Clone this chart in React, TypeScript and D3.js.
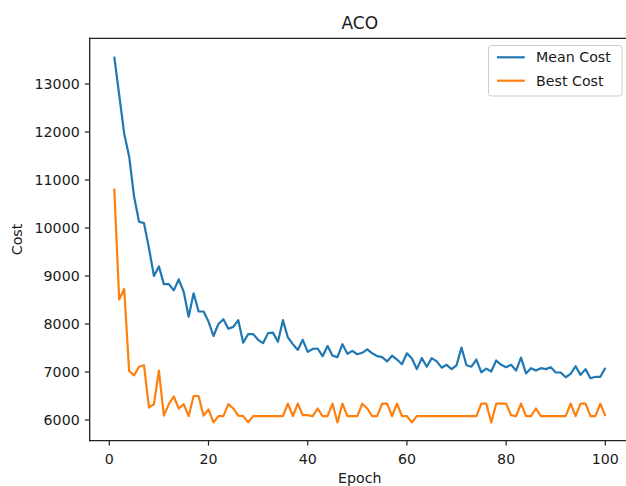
import React from "react";
import * as d3 from "d3";

// epochs 1..100
const epochs = d3.range(1, 101);

const meanCost = [
  13570, 12770, 11970, 11490, 10650, 10130, 10100, 9580, 9000, 9200,
  8830, 8830, 8700, 8930, 8670, 8150, 8640, 8260, 8260, 8050,
  7750, 8000, 8100, 7900, 7940, 8080, 7610, 7790, 7790, 7670,
  7600, 7810, 7820, 7630, 8080, 7720, 7580, 7460, 7670, 7420,
  7480, 7490, 7330, 7540, 7340, 7310, 7580, 7380, 7440, 7370,
  7400, 7470, 7390, 7330, 7310, 7220, 7340, 7260, 7160, 7390,
  7280, 7060, 7290, 7110, 7290, 7220, 7090, 7150, 7060, 7140,
  7510, 7140, 7110, 7260, 6990, 7070, 7010, 7240, 7150, 7100,
  7150, 7030, 7300, 6970, 7080, 7030, 7080, 7060, 7100, 6990,
  6990, 6890, 6960, 7120, 6940, 7060, 6870, 6900, 6900, 7090,
];

const bestCost = [
  10820, 8510, 8730, 7020, 6930, 7110, 7140, 6260, 6330, 7030,
  6090, 6330, 6490, 6240, 6330, 6080, 6500, 6500, 6090, 6220,
  5950, 6080, 6080, 6330, 6240, 6090, 6080, 5950, 6080, 6080,
  6080, 6080, 6080, 6080, 6080, 6340, 6080, 6340, 6100, 6100,
  6080, 6240, 6080, 6080, 6340, 5950, 6340, 6080, 6080, 6080,
  6340, 6240, 6080, 6080, 6340, 6340, 6080, 6340, 6080, 6080,
  5950, 6080, 6080, 6080, 6080, 6080, 6080, 6080, 6080, 6080,
  6080, 6080, 6080, 6080, 6340, 6340, 5950, 6340, 6340, 6340,
  6100, 6080, 6340, 6080, 6080, 6240, 6080, 6080, 6080, 6080,
  6080, 6080, 6340, 6080, 6340, 6340, 6080, 6080, 6340, 6080,
];

const seriesNames = ["Mean Cost", "Best Cost"];
const seriesColors = ["#1f77b4", "#ff7f0e"];
const xTicks = [0, 20, 40, 60, 80, 100];
const yTicks = [6000, 7000, 8000, 9000, 10000, 11000, 12000, 13000];

const W = 626;
const H = 486;
const plot = { left: 89.7, right: 629.9, top: 38.3, bottom: 440.7 };
const FONT = "DejaVu Sans, sans-serif";
const FS = 14.2;

// matplotlib style 5% margins
function padded(lo: number, hi: number) {
  const p = (hi - lo) * 0.05;
  return [lo - p, hi + p];
}

export default function App() {
  const allY = [...meanCost, ...bestCost];
  const x = d3
    .scaleLinear()
    .domain(padded(d3.min(epochs)!, d3.max(epochs)!))
    .range([plot.left, plot.right]);
  const y = d3
    .scaleLinear()
    .domain(padded(d3.min(allY)!, d3.max(allY)!))
    .range([plot.bottom, plot.top]);

  const line = d3
    .line<number>()
    .x((_, i) => x(epochs[i]))
    .y((d) => y(d));

  const series = [meanCost, bestCost];
  const cx = (plot.left + plot.right) / 2;
  const cy = (plot.top + plot.bottom) / 2;

  // legend
  const lg = { x: 488.5, y: 45.5, w: 133.5, h: 50.5 };
  const rowY = [57.3, 80.7];

  return (
    <svg
      width={W}
      height={H}
      style={{ position: "absolute", left: 0, top: 0, background: "#fff" }}
      fontFamily={FONT}
    >
      <defs>
        <clipPath id="plotclip">
          <rect x={plot.left} y={plot.top} width={plot.right - plot.left} height={plot.bottom - plot.top} />
        </clipPath>
      </defs>

      <g clipPath="url(#plotclip)">
        {series.map((s, i) => (
          <path
            key={i}
            d={line(s) || ""}
            fill="none"
            stroke={seriesColors[i]}
            strokeWidth={2.2}
            strokeLinejoin="round"
          />
        ))}
      </g>

      {/* spines */}
      <g stroke="#222" strokeWidth={1.3} fill="none" strokeLinecap="square">
        <line x1={plot.left} y1={plot.top} x2={plot.left} y2={plot.bottom} />
        <line x1={plot.left} y1={plot.bottom} x2={plot.right} y2={plot.bottom} />
        <line x1={plot.left} y1={plot.top} x2={plot.right} y2={plot.top} />
        <line x1={plot.right} y1={plot.top} x2={plot.right} y2={plot.bottom} />
      </g>

      {/* x axis */}
      {xTicks.map((t) => (
        <g key={t} transform={`translate(${x(t)},${plot.bottom})`}>
          <line y2={4.9} stroke="#222" strokeWidth={1.2} />
          <text y={23} textAnchor="middle" fontSize={FS} fill="#1a1a1a">
            {t}
          </text>
        </g>
      ))}
      <text x={cx} y={482.5} textAnchor="middle" fontSize={FS} fill="#1a1a1a">
        Epoch
      </text>

      {/* y axis */}
      {yTicks.map((t) => (
        <g key={t} transform={`translate(${plot.left},${y(t)})`}>
          <line x2={-4.9} stroke="#222" strokeWidth={1.2} />
          <text x={-10} dy="0.35em" textAnchor="end" fontSize={FS} fill="#1a1a1a">
            {t}
          </text>
        </g>
      ))}
      <text
        transform={`translate(21.5,${cy}) rotate(-90)`}
        textAnchor="middle"
        fontSize={FS}
        fill="#1a1a1a"
      >
        Cost
      </text>

      {/* title */}
      <text x={cx} y={29} textAnchor="middle" fontSize={17} fill="#1a1a1a">
        ACO
      </text>

      {/* legend */}
      <rect
        x={lg.x}
        y={lg.y}
        width={lg.w}
        height={lg.h}
        rx={2.8}
        fill="#fff"
        fillOpacity={0.8}
        stroke="#cccccc"
        strokeWidth={1}
      />
      {seriesNames.map((n, i) => (
        <g key={n}>
          <line
            x1={lg.x + 8.5}
            x2={lg.x + 36.3}
            y1={rowY[i]}
            y2={rowY[i]}
            stroke={seriesColors[i]}
            strokeWidth={2.2}
          />
          <text x={lg.x + 47.6} y={rowY[i]} dy="0.35em" fontSize={FS} fill="#1a1a1a">
            {n}
          </text>
        </g>
      ))}
    </svg>
  );
}
